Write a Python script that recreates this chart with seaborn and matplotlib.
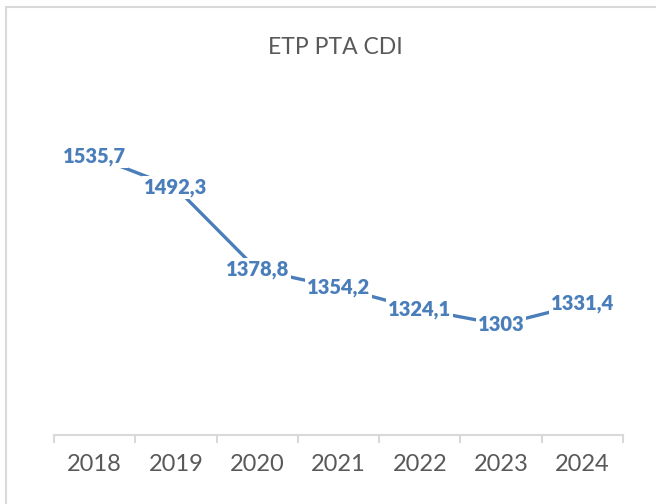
import matplotlib
matplotlib.use("Agg")
import matplotlib.pyplot as plt
import seaborn as sns
import pandas as pd
from matplotlib.patches import Rectangle

# Chart data
years = ["2018", "2019", "2020", "2021", "2022", "2023", "2024"]
etp = [1535.7, 1492.3, 1378.8, 1354.2, 1324.1, 1303, 1331.4]
labels = ["1535,7", "1492,3", "1378,8", "1354,2", "1324,1", "1303", "1331,4"]

BLUE = "#4A7EBB"
GREY_TXT = "#595959"
GREY_LINE = "#D9D9D9"

sns.set_theme(style="white")
plt.rcParams["font.family"] = ["Lato", "DejaVu Sans"]

df = pd.DataFrame({"pos": range(len(years)), "etp": etp})

fig = plt.figure(figsize=(6.56, 5.04), dpi=100)
ax = fig.add_axes([54 / 656, 69 / 504, 569 / 656, 325 / 504])

sns.lineplot(data=df, x="pos", y="etp", ax=ax, color=BLUE, linewidth=2.4)

# data labels centred on the points, white box hides the line
for i, (v, lab) in enumerate(zip(etp, labels)):
    ax.text(i, v, lab, ha="center", va="center", fontsize=14.5,
            fontweight="heavy", color=BLUE,
            bbox=dict(facecolor="white", edgecolor="none", pad=1.5))

ax.set_xlim(-0.5, len(years) - 0.5)
ax.set_ylim(1150, 1600)
ax.set_xlabel("")
ax.set_ylabel("")
ax.set_yticks([])

# category labels without ticks, tick marks between categories
ax.set_xticks(range(len(years)))
ax.set_xticklabels(years, fontsize=17, color=GREY_TXT)
ax.set_xticks([x - 0.5 for x in range(len(years) + 1)], minor=True)
ax.tick_params(axis="x", which="major", length=0, pad=14)
ax.tick_params(axis="x", which="minor", length=6, width=1.5,
               color=GREY_LINE, bottom=True)

for s in ["top", "right", "left"]:
    ax.spines[s].set_visible(False)
ax.spines["bottom"].set_color(GREY_LINE)
ax.spines["bottom"].set_linewidth(1.5)

fig.text(335.5 / 656, 1 - 53.5 / 504, "ETP PTA CDI", ha="center",
         va="baseline", fontsize=16.5, color=GREY_TXT)

# chart frame (cropped on right and bottom)
fig.patches.append(Rectangle((6 / 656, -0.1), 1.2, 1 - 7 / 504 + 0.1,
                             transform=fig.transFigure, fill=False,
                             edgecolor=GREY_LINE, linewidth=1.5))

fig.savefig("out.png", dpi=100, facecolor="white")
